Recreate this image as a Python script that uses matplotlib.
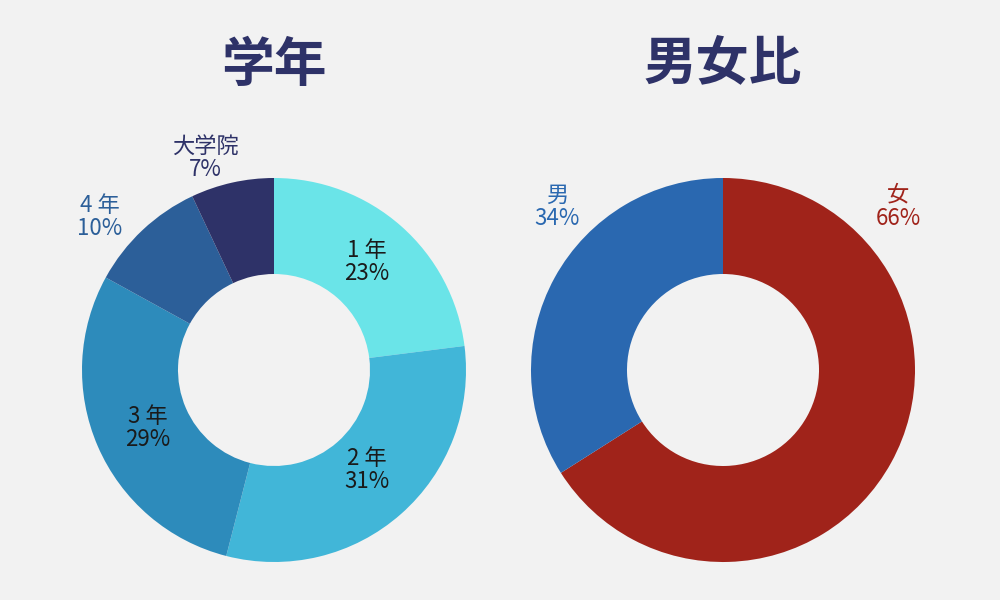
import matplotlib
matplotlib.use("Agg")
import matplotlib.pyplot as plt

grade_labels = ["1 年", "2 年", "3 年", "4 年", "大学院"]
grade_values = [23, 31, 29, 10, 7]
grade_colors = ["#6ae4e8", "#41b6d8", "#2d8bbb", "#2c5f99", "#2e3268"]
grade_text_colors = ["#1a1a1a", "#1a1a1a", "#1a1a1a", "#2c5f99", "#2e3268"]
grade_label_pos = [(367, 262), (367, 470), (148, 428), (100, 217), (205, 158)]

sex_labels = ["女", "男"]
sex_values = [66, 34]
sex_colors = ["#a0231a", "#2a68b0"]
sex_label_pos = [(898, 207), (557, 207)]

plt.rcParams["font.family"] = "Noto Sans CJK JP"
W, H = 1000, 600
fig = plt.figure(figsize=(10, 6), dpi=100)
fig.patch.set_facecolor("#f2f2f2")

def donut(cx, cy, r, values, colors):
    ax = fig.add_axes([(cx - r) / W, 1 - (cy + r) / H, 2 * r / W, 2 * r / H])
    ax.pie(values, colors=colors, startangle=90, counterclock=False,
           wedgeprops=dict(width=0.5, linewidth=0))
    ax.set_xlim(-1, 1); ax.set_ylim(-1, 1)
    ax.set_aspect("equal"); ax.axis("off")

donut(274, 370, 192, grade_values, grade_colors)
donut(723, 370, 192, sex_values, sex_colors)

def labels(names, vals, cols, pos):
    for n, v, c, (x, y) in zip(names, vals, cols, pos):
        fig.text(x / W, 1 - y / H, f"{n}\n{v}%", ha="center", va="center",
                 fontsize=16, style="italic", color=c, linespacing=1.05)

labels(grade_labels, grade_values, grade_text_colors, grade_label_pos)
labels(sex_labels, sex_values, [sex_colors[0], sex_colors[1]], sex_label_pos)

fig.text(274 / W, 1 - 65 / H, "学年", ha="center", va="center", fontsize=38,
         fontweight="bold", color="#2e3268")
fig.text(723 / W, 1 - 65 / H, "男女比", ha="center", va="center", fontsize=38,
         fontweight="bold", color="#2e3268")

fig.savefig("out.png", dpi=100, facecolor=fig.get_facecolor())
